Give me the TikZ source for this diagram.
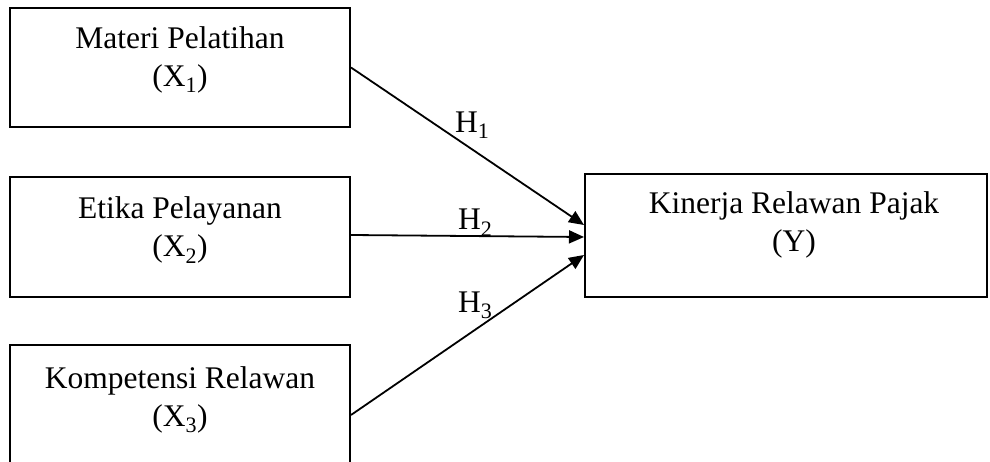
\documentclass[tikz,border=0pt]{standalone}
\usepackage{fontspec}
\setmainfont{Liberation Serif}
\usetikzlibrary{arrows.meta}
\begin{document}
\begin{tikzpicture}[x=1pt,y=-1pt,
  box/.style={draw, line width=2pt, inner sep=0pt},
  txt/.style={align=center, font=\fontsize{31.5}{38}\selectfont, inner sep=0pt, anchor=base},
  hl/.style={font=\fontsize{31.5}{38}\selectfont, inner sep=0pt, anchor=base west},
  arr/.style={line width=1.8pt, -{Triangle[length=15pt,width=13pt]}}]
\useasboundingbox (0,0) rectangle (990,462);
\node[box, minimum width=340pt, minimum height=119pt] (x1) at (180,67.5) {};
\node[box, minimum width=340pt, minimum height=120pt] (x2) at (180,237) {};
\node[box, minimum width=340pt, minimum height=130pt] (x3) at (180,410) {};
\node[box, minimum width=402pt, minimum height=123pt] (y) at (786,235.5) {};
\node[txt] (t1) at (180,87) {Materi Pelatihan\\(X\textsubscript{1})};
\node[txt] (t2) at (180,257) {Etika Pelayanan\\(X\textsubscript{2})};
\node[txt] (t3) at (180,426) {Kompetensi Relawan\\(X\textsubscript{3})};
\node[txt] (ty) at (794,252) {Kinerja Relawan Pajak\\(Y)};
\draw[arr] (x1.east) -- ([yshift=10.5pt]y.west);
\draw[arr] ([yshift=2pt]x2.east) -- ([yshift=-1.5pt]y.west);
\draw[arr] ([yshift=-5pt]x3.east) -- ([yshift=-19.5pt]y.west);
\node[hl] (h1) at (455,133) {H\textsubscript{1}};
\node[hl] (h2) at (458,230) {H\textsubscript{2}};
\node[hl] (h3) at (458,312) {H\textsubscript{3}};
\end{tikzpicture}
\end{document}
